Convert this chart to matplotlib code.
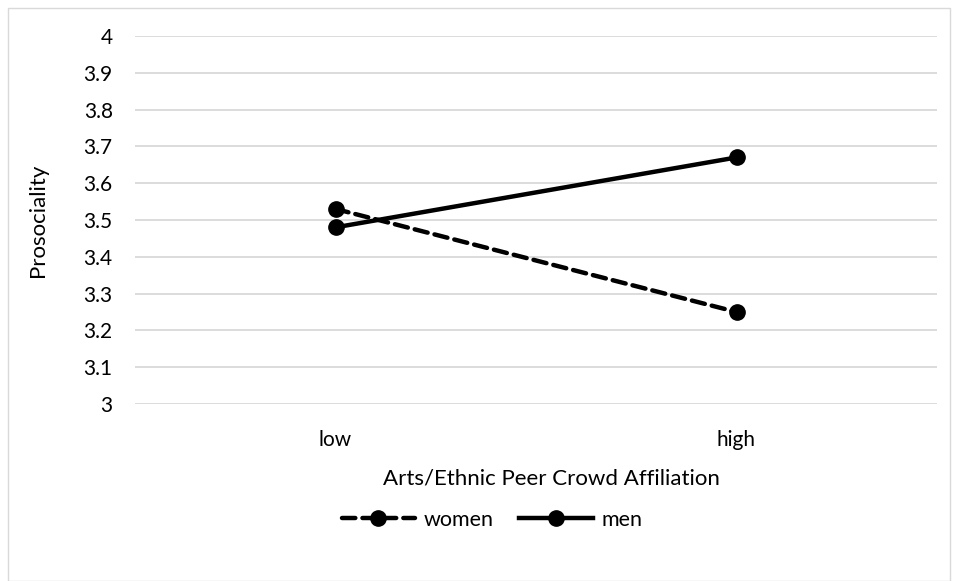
import matplotlib.pyplot as plt
from matplotlib.patches import Rectangle

plt.rcParams['font.family'] = ['Lato', 'DejaVu Sans']

categories = ['low', 'high']
women = [3.53, 3.25]
men = [3.48, 3.67]
yticks = [3, 3.1, 3.2, 3.3, 3.4, 3.5, 3.6, 3.7, 3.8, 3.9, 4]

fig = plt.figure(figsize=(9.59, 5.81), dpi=100)
ax = fig.add_axes([135/959, 177/581, 802/959, 368/581])

x = range(len(categories))
ax.plot(x, women, color='black', lw=3.2, ls=(0, (3, 1.6)), marker='o', ms=11,
        dash_capstyle='round', label='women')
ax.plot(x, men, color='black', lw=3.2, marker='o', ms=11, label='men')

ax.set_xlim(-0.5, 1.5)
ax.set_ylim(3, 4)
ax.set_yticks(yticks)
ax.set_yticklabels([('%g' % v) for v in yticks])
ax.set_xticks(list(x))
ax.set_xticklabels(categories)
ax.grid(axis='y', color='#d9d9d9', lw=1.3)
ax.set_axisbelow(True)
for s in ax.spines.values():
    s.set_visible(False)
ax.tick_params(length=0, labelsize=15, colors='#000000')
ax.tick_params(axis='y', pad=16)
ax.tick_params(axis='x', pad=19)

ax.set_ylabel('Prosociality', fontsize=16, labelpad=26)
ax.set_xlabel('Arts/Ethnic Peer Crowd Affiliation', fontsize=16)
ax.xaxis.set_label_coords(0.519, -0.175)

fig.legend(loc='center', bbox_to_anchor=(492/959, 1 - 520/581), ncol=2,
           frameon=False, fontsize=15.5, handlelength=3.4, numpoints=1,
           columnspacing=1.2, handletextpad=0.4)

fig.patches.append(Rectangle((8/959, 0), 942/959, 573/581, transform=fig.transFigure,
                             fill=False, edgecolor='#d9d9d9', lw=1))

fig.savefig('out.png', dpi=100)
